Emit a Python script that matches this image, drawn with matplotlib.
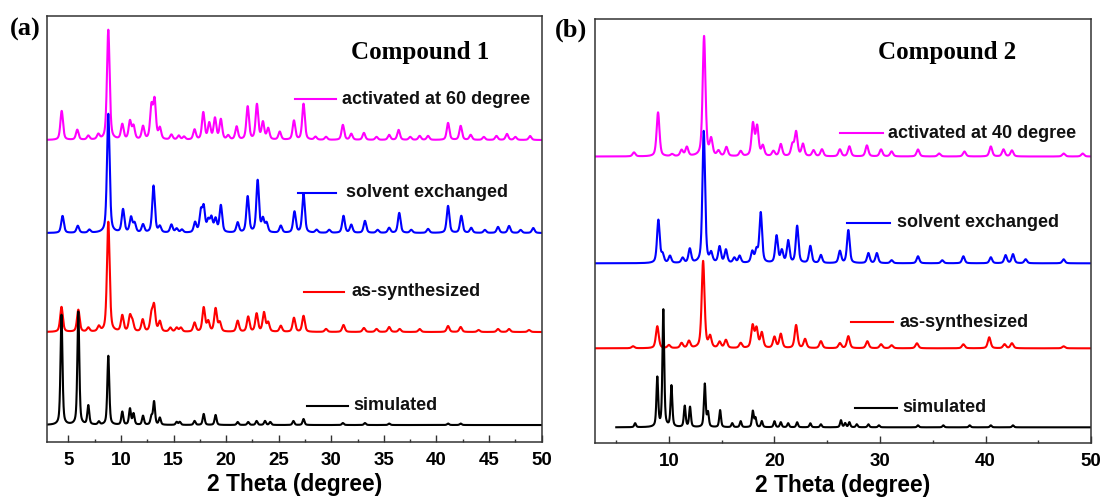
import numpy as np
import matplotlib.pyplot as plt
from matplotlib.ticker import MultipleLocator
from matplotlib.lines import Line2D

# peak lists: (2 theta, height above the pattern's baseline)
# compound 1
c1_activated = [(4.37, 29), (5.85, 10), (6.9, 4), (7.85, 5), (8.8, 110), (10.13, 15), (10.86, 18),
                (11.2, 13), (12.1, 13), (12.9, 32), (13.2, 38), (13.7, 11), (14.8, 5), (15.5, 4),
                (16.0, 3), (17.0, 10), (17.83, 27), (18.4, 16), (18.94, 21), (19.5, 20), (20.2, 4),
                (21.0, 13), (22.05, 33), (22.93, 35), (23.5, 17), (24.0, 11), (25.1, 8), (26.45, 19),
                (27.36, 36), (28.5, 3), (29.5, 3), (31.1, 15), (31.9, 6), (33.1, 7), (34.3, 3),
                (35.5, 5), (36.4, 10), (37.5, 3), (38.4, 4), (39.2, 4), (41.1, 17), (42.3, 14),
                (43.25, 5), (44.5, 3), (45.7, 4), (46.7, 6), (47.5, 3), (48.9, 4)]
c1_solvent = [(4.45, 17), (5.9, 7), (7.0, 3), (8.8, 119), (10.2, 23), (10.96, 15), (11.3, 9),
              (12.1, 8), (13.1, 47), (13.7, 6), (14.8, 8), (15.3, 4), (15.8, 3), (17.05, 10),
              (17.6, 20), (17.87, 24), (18.3, 11), (18.6, 14), (19.0, 13), (19.5, 27), (21.1, 10),
              (22.05, 36), (23.0, 52), (23.5, 13), (23.85, 9), (25.2, 7), (26.5, 21), (27.36, 39),
              (28.6, 3), (29.8, 3), (31.16, 17), (31.9, 8), (33.2, 12), (34.4, 3), (35.5, 5),
              (36.46, 20), (37.6, 3), (39.2, 4), (41.1, 27), (42.36, 17), (43.3, 5), (44.6, 3),
              (45.85, 6), (46.9, 7), (48.0, 3), (49.2, 5)]
c1_assynth = [(4.35, 25), (5.95, 22), (6.9, 4), (7.9, 5), (8.8, 110), (10.13, 16), (10.86, 15),
              (11.1, 9), (12.07, 12), (12.9, 16), (13.15, 25), (13.7, 10), (14.7, 4), (15.3, 4),
              (15.7, 4), (17.0, 9), (17.87, 24), (18.3, 10), (19.0, 23), (19.4, 9), (21.1, 11),
              (22.1, 15), (22.9, 18), (23.6, 19), (24.0, 9), (25.2, 6), (26.45, 14), (27.36, 16),
              (29.5, 3), (31.16, 7), (33.1, 4), (34.3, 3), (35.5, 5), (36.5, 3), (38.4, 3),
              (41.1, 6), (42.3, 5), (44.0, 2), (45.85, 3), (46.9, 3), (48.8, 2)]
c1_simulated = [(4.35, 110), (5.95, 113), (6.9, 19), (7.9, 3), (8.8, 69), (10.13, 13), (10.86, 16),
                (11.2, 11), (12.1, 9), (12.9, 8), (13.15, 23), (13.7, 7), (15.3, 3), (15.6, 3),
                (17.0, 4), (17.87, 11), (19.0, 10), (21.1, 3), (22.1, 3), (22.9, 4), (23.7, 4),
                (24.2, 3), (26.4, 4), (27.36, 6), (31.1, 2), (33.2, 2), (35.5, 1.5), (41.1, 1.5),
                (42.3, 1.5)]

# compound 2
c2_activated = [(6.69, 4), (8.97, 44), (10.3, 2), (11.2, 6), (11.7, 9), (13.33, 120), (14.0, 16),
                (14.7, 5), (15.45, 9), (16.8, 5), (17.96, 32), (18.36, 29), (18.9, 10), (19.9, 5),
                (20.6, 12), (21.7, 11), (22.05, 24), (22.7, 12), (23.7, 6), (24.5, 7), (26.2, 7),
                (27.1, 10), (28.76, 11), (30.1, 7), (31.1, 5), (33.6, 7), (35.6, 3), (38.0, 5),
                (40.5, 10), (41.7, 7), (42.5, 6), (47.4, 3), (49.2, 3)]
c2_solvent = [(9.0, 43), (9.4, 8), (10.1, 7), (11.3, 5), (11.98, 14), (13.3, 132), (14.0, 9),
              (14.8, 16), (15.4, 13), (16.2, 5), (16.7, 7), (17.9, 11), (18.3, 12), (18.7, 50),
              (20.2, 27), (20.7, 12), (21.3, 22), (22.15, 37), (23.4, 17), (24.4, 8), (26.2, 12),
              (27.0, 33), (28.9, 10), (29.7, 10), (31.1, 3), (33.6, 7), (35.9, 3), (37.9, 7),
              (40.5, 6), (41.9, 8), (42.6, 9), (43.8, 4), (47.4, 4)]
c2_assynth = [(6.6, 2), (8.9, 22), (10.0, 3), (11.2, 5), (11.9, 7), (13.24, 87), (13.9, 11),
              (14.8, 6), (15.4, 8), (16.8, 5), (17.93, 22), (18.3, 19), (18.8, 15), (20.0, 11),
              (20.6, 14), (22.05, 23), (22.9, 9), (24.4, 7), (26.2, 5), (27.0, 12), (28.8, 7),
              (30.1, 4), (31.1, 3), (33.5, 5), (37.9, 4), (40.35, 11), (41.8, 4), (42.5, 5),
              (47.4, 2)]
c2_simulated = [(6.8, 4), (8.9, 49), (9.47, 117), (10.24, 41), (11.5, 21), (12.0, 20), (13.4, 43),
                (13.7, 14), (14.85, 17), (16.0, 4), (16.8, 6), (17.95, 16), (18.2, 9), (18.8, 6),
                (20.0, 6), (20.6, 5), (21.3, 4), (22.15, 5), (23.4, 4), (24.4, 3), (26.3, 7),
                (26.7, 4), (27.1, 5), (27.8, 3), (28.9, 3), (29.9, 2), (33.6, 2), (36.0, 2),
                (38.5, 2), (40.5, 2), (42.6, 2)]

# stacking offsets of each pattern
c1_offsets = [302, 209, 110, 17]
c2_offsets = [286.5, 179.7, 94.7, 15.7]
c2_sim_start = 5.0

labels1 = ['activated at 60 degree', 'solvent exchanged', 'as-synthesized', 'simulated']
labels2 = ['activated at 40 degree', 'solvent exchanged', 'as-synthesized', 'simulated']
colors = ['#ff00ff', '#0000ff', '#ff0000', '#000000']


def pattern(tt, peaks, fwhm, eta=0.5):
    y = np.zeros_like(tt)
    g = fwhm / 2.0
    for x0, h in peaks:
        d = (tt - x0) / g
        y += h * (eta / (1 + d ** 2) + (1 - eta) * np.exp(-np.log(2) * d ** 2))
    return y


sans = ['Liberation Sans', 'DejaVu Sans']
serif = ['Liberation Serif', 'DejaVu Serif']

fig = plt.figure(figsize=(11.05, 4.98), dpi=100)
ax1 = fig.add_axes([0.0428, 0.1124, 0.4474, 0.8554])
ax2 = fig.add_axes([0.5385, 0.1104, 0.4489, 0.8514])

tt = np.arange(3, 50.001, 0.01)

# left panel
curves1 = [c1_activated, c1_solvent, c1_assynth, c1_simulated]
widths1 = [0.3, 0.3, 0.3, 0.22]
for peaks, off, c, w in zip(curves1, c1_offsets, colors, widths1):
    ax1.plot(tt, off + pattern(tt, peaks, w), color=c, lw=1.5)

# right panel
curves2 = [c2_activated, c2_solvent, c2_assynth, c2_simulated]
widths2 = [0.32, 0.3, 0.32, 0.2]
for i, (peaks, off, c, w) in enumerate(zip(curves2, c2_offsets, colors, widths2)):
    x = tt if i < 3 else tt[tt >= c2_sim_start]
    ax2.plot(x, off + pattern(x, peaks, w), color=c, lw=1.5)

ax1.set_ylim(0, 426)
ax2.set_ylim(0, 424)

# label positions in axes fraction: (line x0, line x1, y, text x)
leg1 = [(0.501, 0.584, 0.805, 0.596), (0.507, 0.584, 0.585, 0.604),
        (0.519, 0.601, 0.353, 0.616), (0.525, 0.608, 0.085, 0.620)]
leg2 = [(0.494, 0.581, 0.731, 0.591), (0.508, 0.595, 0.519, 0.609),
        (0.516, 0.601, 0.285, 0.613), (0.524, 0.609, 0.083, 0.619)]

for ax, leg, labs in [(ax1, leg1, labels1), (ax2, leg2, labels2)]:
    for (x0, x1, y, xt), lab, c in zip(leg, labs, colors):
        ax.add_line(Line2D([x0, x1], [y, y], color=c, lw=1.5, transform=ax.transAxes))
        ax.text(xt, y, lab, transform=ax.transAxes, ha='left', va='center',
                fontsize=13, fontweight='bold', family=sans, color='#111111')

    ax.set_xlim(3, 50)
    ax.set_yticks([])
    for sp in ax.spines.values():
        sp.set_linewidth(1.1)
        sp.set_color('#333333')
    ax.tick_params(axis='x', which='both', direction='in', top=False, pad=7,
                   labelsize=13.5, width=1.0, color='#333333')
    ax.tick_params(axis='x', which='major', length=5)
    ax.tick_params(axis='x', which='minor', length=2.5)
    ax.set_xlabel('2 Theta (degree)', fontsize=16.4, fontweight='bold', family=sans, labelpad=3)

ax1.xaxis.set_major_locator(MultipleLocator(5))
ax1.xaxis.set_minor_locator(MultipleLocator(2.5))
ax2.xaxis.set_major_locator(MultipleLocator(10))
ax2.xaxis.set_minor_locator(MultipleLocator(5))
for ax in (ax1, ax2):
    for lbl in ax.get_xticklabels():
        lbl.set_fontweight('bold')
        lbl.set_family(sans)

ax1.text(0.754, 0.915, 'Compound 1', transform=ax1.transAxes, ha='center', va='center',
         fontsize=18, fontweight='bold', family=serif)
ax2.text(0.710, 0.922, 'Compound 2', transform=ax2.transAxes, ha='center', va='center',
         fontsize=18, fontweight='bold', family=serif)

fig.text(0.0226, 0.94, '(a)', ha='center', va='center', fontsize=19, fontweight='bold', family=serif)
fig.text(0.517, 0.94, '(b)', ha='center', va='center', fontsize=19, fontweight='bold', family=serif)

fig.savefig('out.png', dpi=100)
